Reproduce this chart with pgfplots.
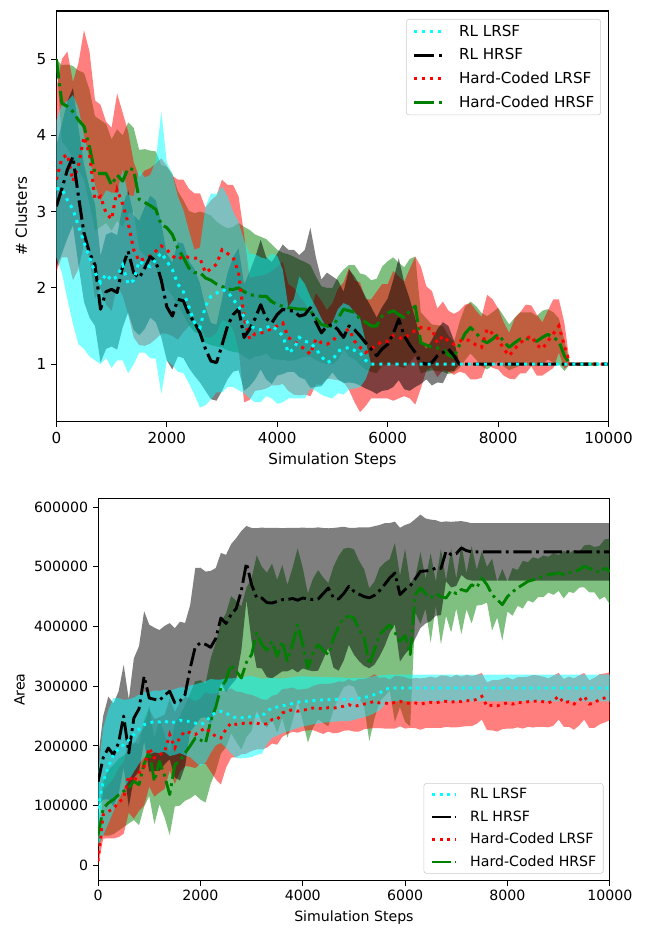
\documentclass[border=0pt]{standalone}
\usepackage{fontspec}
\setmainfont{DejaVu Sans}
\usepackage{pgfplots}
\usepackage{pgfplotstable}
\pgfplotsset{compat=1.18}
\usepgfplotslibrary{fillbetween}
\definecolor{mplgreen}{RGB}{0,128,0}
\definecolor{mplcyan}{RGB}{0,255,255}
\definecolor{mplred}{RGB}{255,0,0}

% ---------- top panel: # clusters (x, mean, std) ----------
\pgfplotstableread{
x m s
0 3.30 0.90
100 3.30 1.10
200 3.15 1.30
300 3.03 1.50
400 2.81 1.55
500 2.60 1.40
600 2.40 1.30
700 2.20 1.15
800 2.07 1.07
900 2.18 1.10
1000 2.10 1.15
1100 2.15 1.10
1200 2.30 1.25
1300 2.05 1.17
1400 2.10 1.10
1500 2.35 1.20
1600 2.30 1.15
1700 2.28 1.20
1800 2.37 1.30
1900 2.46 1.85
2000 2.35 1.30
2100 2.24 1.25
2200 2.05 1.15
2300 1.95 1.07
2400 1.75 1.00
2500 1.55 0.95
2600 1.48 1.05
2700 1.76 1.30
2800 1.89 1.35
2900 1.93 1.30
3000 1.98 1.35
3100 1.95 1.25
3200 1.85 1.15
3300 1.76 1.10
3400 1.62 1.00
3500 1.50 0.95
3600 1.47 0.97
3700 1.45 0.95
3800 1.48 0.90
3900 1.50 0.95
4000 1.45 0.97
4100 1.37 0.87
4200 1.15 0.60
4300 1.20 0.65
4400 1.35 0.80
4500 1.30 0.75
4600 1.28 0.60
4700 1.20 0.55
4800 1.10 0.50
4900 1.02 0.45
5000 1.05 0.50
5100 1.17 0.55
5200 1.20 0.60
5300 1.22 0.55
5400 1.18 0.50
5500 1.15 0.45
5600 1.05 0.25
5700 1.00 0.00
10000 1.00 0.00
}\cRL

\pgfplotstableread{
x m s
0 3.07 0.80
100 3.30 0.85
200 3.55 0.90
300 3.72 0.90
400 3.20 0.90
500 2.72 0.90
600 2.46 0.85
700 2.30 0.80
800 1.72 0.70
900 1.95 0.75
1000 1.98 0.75
1100 1.94 0.75
1200 2.28 0.80
1300 2.48 0.80
1400 2.20 0.75
1500 2.13 0.75
1600 2.26 0.80
1700 2.41 0.80
1800 2.35 0.80
1900 2.10 0.75
2000 1.75 0.70
2100 1.63 0.70
2200 1.85 0.75
2300 1.83 0.75
2400 1.65 0.70
2500 1.55 0.70
2600 1.41 0.65
2700 1.20 0.55
2800 1.04 0.50
2900 1.02 0.50
3000 1.25 0.60
3100 1.50 0.70
3200 1.65 0.75
3300 1.72 0.80
3400 1.35 0.70
3500 1.46 0.75
3600 1.60 0.80
3700 1.78 0.85
3800 1.60 0.80
3900 1.54 0.80
4000 1.65 0.80
4100 1.72 0.85
4200 1.70 0.80
4300 1.70 0.80
4400 1.63 0.80
4500 1.65 0.85
4600 1.74 1.05
4700 1.55 0.85
4800 1.41 0.70
4900 1.50 0.70
5000 1.52 0.63
5100 1.45 0.65
5200 1.35 0.60
5300 1.50 0.74
5400 1.45 0.70
5500 1.37 0.65
5600 1.28 0.60
5700 1.20 0.55
5800 1.11 0.50
5900 1.20 0.55
6000 1.26 0.60
6100 1.40 0.70
6200 1.59 0.80
6300 1.37 0.70
6400 1.25 0.60
6500 1.15 0.45
6600 1.02 0.28
6700 1.00 0.20
6800 1.02 0.30
6900 1.11 0.35
7000 1.15 0.40
7100 1.20 0.30
7200 1.11 0.20
7300 1.00 0.00
10000 1.00 0.00
}\cRH

\pgfplotstableread{
x m s
0 3.42 1.20
100 3.70 1.30
200 3.75 1.35
300 3.40 1.30
400 3.60 1.35
500 3.98 1.40
600 3.75 1.35
700 3.16 1.30
800 3.20 1.20
900 2.98 1.20
1000 2.90 1.20
1100 3.29 1.26
1200 3.10 1.20
1300 2.85 1.20
1400 2.50 1.15
1500 2.35 1.10
1600 2.39 1.15
1700 2.42 1.15
1800 2.48 1.15
1900 2.55 1.15
2000 2.50 1.10
2100 2.42 1.05
2200 2.37 1.05
2300 2.42 1.00
2400 2.40 0.90
2500 2.39 0.85
2600 2.39 0.85
2700 2.20 0.85
2800 2.25 0.90
2900 2.31 0.90
3000 2.50 0.92
3100 2.45 0.90
3200 2.40 0.95
3300 2.20 1.00
3400 1.60 1.10
3500 1.33 0.80
3600 1.40 0.75
3700 1.41 0.75
3800 1.43 0.75
3900 1.47 0.75
4000 1.50 0.78
4100 1.54 0.80
4200 1.35 0.70
4300 1.30 0.70
4400 1.24 0.65
4500 1.20 0.60
4600 1.13 0.55
4700 1.33 0.60
4800 1.28 0.55
4900 1.26 0.45
5000 1.30 0.50
5100 1.39 0.60
5200 1.42 0.65
5300 1.46 0.80
5400 1.30 0.80
5500 1.22 0.85
5600 1.15 0.70
5700 1.20 0.65
5800 1.25 0.70
5900 1.30 0.75
6000 1.30 0.75
6100 1.37 0.85
6200 1.35 0.80
6300 1.33 0.75
6400 1.40 0.85
6500 1.44 0.97
6600 1.48 0.80
6700 1.47 0.55
6800 1.46 0.50
6900 1.28 0.45
7000 1.37 0.45
7100 1.30 0.40
7200 1.26 0.40
7300 1.30 0.40
7400 1.33 0.45
7500 1.30 0.50
7600 1.25 0.45
7700 1.22 0.40
7800 1.46 0.45
7900 1.40 0.45
8000 1.33 0.40
8100 1.20 0.35
8200 1.11 0.30
8300 1.20 0.40
8400 1.28 0.40
8500 1.33 0.45
8600 1.37 0.40
8700 1.25 0.40
8800 1.20 0.35
8900 1.30 0.40
9000 1.40 0.45
9100 1.50 0.35
9200 1.24 0.30
9300 1.00 0.00
10000 1.00 0.00
}\cHL

\pgfplotstableread{
x m s
0 5.00 0.00
100 4.42 0.50
200 4.38 0.55
300 4.31 0.60
400 4.20 0.65
500 4.12 0.70
600 3.85 0.75
700 3.50 0.75
800 3.50 0.70
900 3.50 0.65
1000 3.35 0.60
1100 3.48 0.60
1200 3.40 0.60
1300 3.57 0.60
1400 3.55 0.55
1500 3.16 0.65
1600 3.12 0.70
1700 3.08 0.72
1800 3.03 0.76
1900 2.83 0.78
2000 2.79 0.80
2100 2.70 0.80
2200 2.52 0.75
2300 2.40 0.75
2400 2.26 0.75
2500 2.20 0.78
2600 2.20 0.80
2700 2.13 0.85
2800 2.10 0.85
2900 2.05 0.82
3000 2.02 0.80
3100 1.98 0.80
3200 1.98 0.82
3300 2.00 0.85
3400 1.95 0.85
3500 1.91 0.85
3600 1.90 0.80
3700 1.89 0.78
3800 1.89 0.75
3900 1.82 0.75
4000 1.78 0.72
4100 1.76 0.70
4200 1.74 0.70
4300 1.73 0.68
4400 1.72 0.65
4500 1.72 0.62
4600 1.70 0.60
4700 1.60 0.55
4800 1.52 0.50
4900 1.50 0.50
5000 1.50 0.50
5100 1.60 0.55
5200 1.72 0.52
5300 1.70 0.60
5400 1.68 0.62
5500 1.59 0.60
5600 1.55 0.62
5700 1.50 0.60
5800 1.50 0.62
5900 1.63 0.65
6000 1.67 0.68
6100 1.70 0.70
6200 1.65 0.68
6300 1.61 0.66
6400 1.70 0.68
6500 1.76 0.65
6600 1.28 0.40
6700 1.25 0.35
6800 1.22 0.30
6900 1.21 0.30
7000 1.20 0.30
7100 1.12 0.25
7200 1.09 0.20
7300 1.25 0.30
7400 1.40 0.35
7500 1.48 0.34
7600 1.41 0.35
7700 1.32 0.35
7800 1.28 0.35
7900 1.33 0.35
8000 1.39 0.35
8100 1.30 0.33
8200 1.22 0.30
8300 1.28 0.33
8400 1.33 0.35
8500 1.33 0.35
8600 1.33 0.35
8700 1.30 0.33
8800 1.35 0.35
8900 1.39 0.33
9000 1.35 0.33
9100 1.30 0.30
9200 1.11 0.20
9300 1.00 0.00
10000 1.00 0.00
}\cHH

% ---------- bottom panel: area (x, mean, std) ----------
\pgfplotstableread{
x m s
0 95000 60000
100 140000 90000
200 165000 95000
300 185000 95000
400 195000 85000
500 202000 75000
600 210000 68000
700 218800 62000
800 228000 58000
900 235500 55000
1000 238000 52000
1100 241000 52000
1200 240000 52000
1300 242000 52000
1400 238000 55000
1500 240000 55000
1600 243000 55000
1700 241000 57000
1800 241200 60000
1900 238000 65000
2000 235500 70000
2100 240000 68000
2200 250000 62000
2300 256000 55000
2400 258000 53000
2500 255000 58000
2600 250000 63000
2700 246700 67000
2800 247000 68000
2900 248000 68000
3000 249000 68000
3100 250000 65000
3200 249600 63000
3300 258000 55000
3400 263500 50000
3500 265000 48000
3600 267000 46000
3700 269000 45000
3800 271000 44000
3900 273000 43000
4000 274700 42000
4100 275000 41000
4200 276000 40000
4300 276500 39000
4400 277000 38000
4500 277400 38000
4600 277500 37000
4700 278000 37000
4800 278000 36000
4900 277400 36000
5000 278500 35000
5100 280000 34000
5200 281000 33000
5300 283000 32000
5400 286000 31000
5500 288600 29000
5600 294000 25000
5700 297000 22300
10000 297000 22300
}\aRL

\pgfplotstableread{
x m s
0 140000 40000
100 180000 70000
200 196500 86000
300 185000 86000
400 205000 86000
500 250000 86000
600 188000 90000
700 246700 100000
800 262000 105000
900 316600 109000
1000 280000 123000
1100 278000 120000
1200 276000 118000
1300 285000 116000
1400 291500 114000
1500 272000 125000
1600 275000 133000
1700 285800 120000
1800 330000 106000
1900 366000 132000
2000 372400 126000
2100 370000 122000
2200 365000 128000
2300 380000 118000
2400 414200 109000
2500 405000 115000
2600 420000 118000
2700 430000 118000
2800 460000 100000
2900 506400 62000
3000 470000 95000
3100 447700 117000
3200 447700 118000
3300 440000 125000
3400 439300 126000
3500 442000 123000
3600 444900 120000
3700 445000 120000
3800 447000 118000
3900 444000 121000
4000 447700 118000
4100 446000 119000
4200 445000 120000
4300 446000 120000
4400 455000 110000
4500 464500 100000
4600 448000 117000
4700 446000 120000
4800 455000 112000
4900 467300 98000
5000 459000 106000
5100 454000 112000
5200 450000 116000
5300 448000 118000
5400 452000 116000
5500 460000 110000
5600 470000 103000
5700 481300 92000
5800 489600 86000
5900 453300 112000
6000 462000 108000
6100 468000 105000
6200 480000 100000
6300 492400 95000
6400 493000 88000
6500 494000 85000
6600 498000 80000
6700 497000 78000
6800 526000 50000
6900 520300 55000
7000 522000 54000
7100 531500 45000
7200 527000 48000
7300 525000 48000
10000 525000 48000
}\aRH

\pgfplotstableread{
x m s
0 7000 8000
100 84700 40000
200 90000 45000
300 95000 50000
400 105000 58000
500 112700 60000
600 150000 62000
700 140000 62000
800 155000 64000
900 165000 65000
1000 196500 65000
1100 180000 65000
1200 185000 63000
1300 190000 62000
1400 218800 60000
1500 196500 60000
1600 215000 58000
1700 224400 58000
1800 222000 57000
1900 218800 56000
2000 225000 55000
2100 230000 60000
2200 222000 65000
2300 216100 72000
2400 213200 78000
2500 228000 65000
2600 238400 58000
2700 236000 55000
2800 238000 52000
2900 237000 50000
3000 238400 47000
3100 238000 44000
3200 236000 42000
3300 237000 40000
3400 243900 40000
3500 244000 42000
3600 255100 40000
3700 258000 38000
3800 260700 37000
3900 258000 36000
4000 260000 35000
4100 261000 35000
4200 263500 37000
4300 263000 40000
4400 262000 42000
4500 264000 40000
4600 263000 42000
4700 265000 43000
4800 266300 41000
4900 269000 43000
5000 266000 42000
5100 268000 44000
5200 270000 42000
5300 272000 43000
5400 274700 45000
5500 271800 42000
5600 272000 43000
5700 270000 41000
5800 273000 44000
5900 274700 42000
6000 272000 43000
6100 271000 41000
6200 271800 42000
6300 270000 43000
6400 272000 42000
6500 273000 43000
6600 272000 42000
6700 274000 44000
6800 274700 43000
6900 273000 42000
7000 275000 44000
7100 274000 42000
7200 276000 43000
7300 275000 42000
7400 278000 41000
7500 283000 39000
7600 266300 40000
7700 268000 42000
7800 267000 43000
7900 270000 42000
8000 272000 43000
8100 270000 41000
8200 273000 42000
8300 272000 43000
8400 274000 42000
8500 274700 44000
8600 275000 43000
8700 274000 42000
8800 272000 41000
8900 276000 42000
9000 283000 39000
9100 272000 40000
9200 274000 42000
9300 270000 43000
9400 276000 42000
9500 283000 39000
9600 270000 40000
9700 272000 42000
9800 278000 42000
9900 280200 41000
10000 283000 40000
}\aHL

\pgfplotstableread{
x m s
0 50000 20000
100 95000 45000
200 104400 55000
300 110000 58000
400 118000 60000
500 124000 60000
600 130000 60000
700 140700 65000
800 135000 68000
900 170000 72000
1000 191000 75000
1100 140700 72000
1200 174200 72000
1300 150000 70000
1400 118300 68000
1500 168500 70000
1600 175000 75000
1700 188100 80000
1800 200000 88000
1900 213200 95000
2000 210000 100000
2100 204900 100000
2200 241200 105000
2300 265000 108000
2400 297000 110000
2500 310000 112000
2600 336000 115000
2700 325000 118000
2800 313700 120000
2900 340000 125000
3000 352800 128000
3100 389100 130000
3200 370000 130000
3300 360000 130000
3400 375200 130000
3500 350000 128000
3600 375000 128000
3700 341700 128000
3800 370000 128000
3900 403000 128000
4000 370000 128000
4100 330500 125000
4200 355000 125000
4300 369500 125000
4400 360000 122000
4500 352800 120000
4600 380000 120000
4700 400000 118000
4800 414200 116000
4900 417000 115000
5000 414200 115000
5100 395000 115000
5200 380700 115000
5300 336000 128000
5400 360000 115000
5500 386300 112000
5600 395000 112000
5700 403000 110000
5800 390000 150000
5900 375000 110000
6000 385000 145000
6100 352800 120000
6200 453300 30000
6300 464500 60000
6400 455000 25000
6500 447700 75000
6600 455000 20000
6700 450000 80000
6800 447700 30000
6900 460000 70000
7000 455000 25000
7100 462000 75000
7200 459000 30000
7300 470000 65000
7400 465000 30000
7500 481300 45000
7600 470000 30000
7700 453300 60000
7800 445000 30000
7900 436500 60000
8000 450000 25000
8100 458000 40000
8200 464500 30000
8300 470000 40000
8400 475700 32000
8500 478000 38000
8600 481300 32000
8700 484000 35000
8800 486800 30000
8900 488000 35000
9000 489600 30000
9100 487000 40000
9200 490000 32000
9300 492000 36000
9400 495000 30000
9500 500800 35000
9600 497000 40000
9700 495200 38000
9800 490000 45000
9900 498000 48000
10000 492000 55000
}\aHH

\pgfplotsset{
  panel/.style={
    scale only axis, anchor=south west,
    xmin=0, xmax=10000,
    xtick={0,2000,4000,6000,8000,10000},
    tick align=outside, xtick pos=left, ytick pos=left,
    xlabel={Simulation Steps},
    /pgf/number format/assume math mode=true,
    /pgf/number format/fixed,
    /pgf/number format/1000 sep={},
    scaled ticks=false,
    legend cell align=left,
    legend style={draw=black!20, rounded corners=2pt, fill=white,
      fill opacity=0.8, text opacity=1,
      nodes={inner xsep=0pt, inner ysep=2pt}},
  },
}

% band = mean +- std, filled between the two edges
\newcommand{\band}[3]{%
  \addplot[draw=none, forget plot, name path=#3u] table[x=x, y expr=\thisrow{m}+\thisrow{s}] {#1};
  \addplot[draw=none, forget plot, name path=#3l] table[x=x, y expr=\thisrow{m}-\thisrow{s}] {#1};
  \addplot[fill=#2, fill opacity=0.5, draw=none, forget plot] fill between[of=#3u and #3l];
}

\newcommand{\legendset}{%
  \addlegendimage{mplcyan, dotln}\addlegendentry{RL LRSF}
  \addlegendimage{black, dashdotln}\addlegendentry{RL HRSF}
  \addlegendimage{mplred, dotln}\addlegendentry{Hard-Coded LRSF}
  \addlegendimage{mplgreen, dashdotln}\addlegendentry{Hard-Coded HRSF}
}

\begin{document}
\begin{tikzpicture}
\path (0,0) rectangle (466.56pt,668.88pt);

% top panel
\pgfplotsset{
  dotln/.style={line width=2.19pt, dash pattern=on 2.19pt off 3.61pt},
  dashdotln/.style={line width=2.19pt, line join=round,
    dash pattern=on 14pt off 3.5pt on 2.19pt off 3.5pt},
}
\begin{axis}[panel,
  at={(40.68pt,364.54pt)}, width=398.52pt, height=296.42pt,
  major tick length=3.83pt,
  tick style={black, line width=0.875pt},
  axis line style={line width=0.875pt},
  tick label style={font=\fontsize{10.94}{13}\selectfont},
  label style={font=\fontsize{10.94}{13}\selectfont},
  ymin=0.245, ymax=5.632, ytick={1,2,3,4,5},
  ylabel={\# Clusters},
  legend image code/.code={\draw[#1] (0pt,0pt) -- (21.6pt,0pt);},
  legend style={at={(1,1)}, anchor=north east, xshift=-5.5pt, yshift=-5.8pt,
    font=\fontsize{10.94}{13}\selectfont,
    inner xsep=4.6pt, inner ysep=2pt, row sep=3.4pt,
    /tikz/every odd column/.append style={column sep=9.6pt}},
]
\legendset
\band{\cHH}{mplgreen}{tg}
\band{\cHL}{mplred}{tr}
\band{\cRH}{black}{tk}
\band{\cRL}{mplcyan}{tc}
\addplot[mplgreen, dashdotln, forget plot] table[x=x, y=m] {\cHH};
\addplot[mplred, dotln, forget plot] table[x=x, y=m] {\cHL};
\addplot[black, dashdotln, forget plot] table[x=x, y=m] {\cRH};
\addplot[mplcyan, dotln, forget plot] table[x=x, y=m] {\cRL};
\end{axis}

% bottom panel (set a little smaller in the source figure)
\pgfplotsset{
  dotln/.style={line width=2.06pt, dash pattern=on 2.06pt off 3.4pt},
  dashdotln/.style={line width=2.06pt, line join=round,
    dash pattern=on 13.2pt off 3.3pt on 2.06pt off 3.3pt},
}
\begin{axis}[panel,
  at={(70.78pt,33.34pt)}, width=369.29pt, height=275.54pt,
  major tick length=3.6pt,
  tick style={black, line width=0.82pt},
  axis line style={line width=0.82pt},
  tick label style={font=\fontsize{10.2}{12.2}\selectfont},
  label style={font=\fontsize{10.2}{12.2}\selectfont},
  ymin=-25740, ymax=613870,
  ytick={0,100000,200000,300000,400000,500000,600000},
  ylabel={Area},
  legend image code/.code={\draw[#1] (0pt,0pt) -- (17.5pt,0pt);},
  legend style={at={(1,0)}, anchor=south east, xshift=-4.5pt, yshift=5pt,
    font=\fontsize{10.2}{12.2}\selectfont,
    inner xsep=5pt, inner ysep=1.6pt, row sep=3.05pt,
    /tikz/every odd column/.append style={column sep=8.9pt}},
]
\legendset
\band{\aHH}{mplgreen}{bg}
\band{\aHL}{mplred}{br}
\band{\aRH}{black}{bk}
\band{\aRL}{mplcyan}{bc}
\addplot[mplgreen, dashdotln, forget plot] table[x=x, y=m] {\aHH};
\addplot[mplred, dotln, forget plot] table[x=x, y=m] {\aHL};
\addplot[black, dashdotln, forget plot] table[x=x, y=m] {\aRH};
\addplot[mplcyan, dotln, forget plot] table[x=x, y=m] {\aRL};
\end{axis}
\end{tikzpicture}
\end{document}
